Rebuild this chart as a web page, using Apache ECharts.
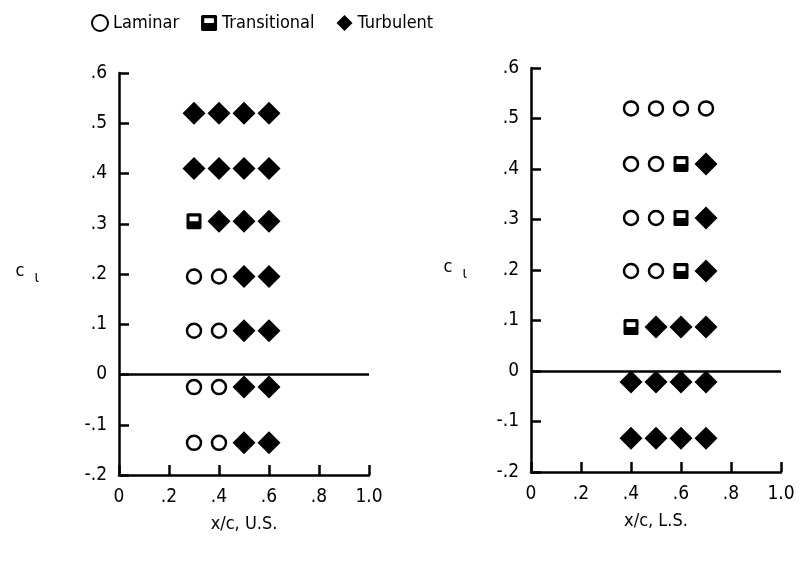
<!DOCTYPE html>
<html>
<head>
<meta charset="utf-8">
<script src="https://cdn.jsdelivr.net/npm/echarts@6/dist/echarts.min.js"></script>
<style>
    html, body {margin: 0; padding: 0; background: #fff;}
    #chart {width: 808px; height: 562px;}
</style>
</head>
<body>
<div id="chart"></div>
<script>
    // upper surface (U.S.) points [x/c, cl]
    const usLaminar = [[0.3, 0.195], [0.4, 0.195], [0.3, 0.087], [0.4, 0.087],
        [0.3, -0.025], [0.4, -0.025], [0.3, -0.136], [0.4, -0.136]];
    const usTransitional = [[0.3, 0.305]];
    const usTurbulent = [[0.3, 0.52], [0.4, 0.52], [0.5, 0.52], [0.6, 0.52],
        [0.3, 0.41], [0.4, 0.41], [0.5, 0.41], [0.6, 0.41],
        [0.4, 0.305], [0.5, 0.305], [0.6, 0.305],
        [0.5, 0.195], [0.6, 0.195], [0.5, 0.087], [0.6, 0.087],
        [0.5, -0.025], [0.6, -0.025], [0.5, -0.136], [0.6, -0.136]];

    // lower surface (L.S.) points
    const lsLaminar = [[0.4, 0.52], [0.5, 0.52], [0.6, 0.52], [0.7, 0.52],
        [0.4, 0.41], [0.5, 0.41], [0.4, 0.303], [0.5, 0.303], [0.4, 0.198], [0.5, 0.198]];
    const lsTransitional = [[0.6, 0.41], [0.6, 0.303], [0.6, 0.198], [0.4, 0.087]];
    const lsTurbulent = [[0.7, 0.41], [0.7, 0.303], [0.7, 0.198],
        [0.5, 0.087], [0.6, 0.087], [0.7, 0.087],
        [0.4, -0.022], [0.5, -0.022], [0.6, -0.022], [0.7, -0.022],
        [0.4, -0.133], [0.5, -0.133], [0.6, -0.133], [0.7, -0.133]];

    const xNames = ['x/c, U.S.', 'x/c, L.S.'];

    const font = "'DejaVu Sans Condensed', 'DejaVu Sans', sans-serif";
    const black = '#000';
    // square with a window in its upper half
    const transSymbol = 'path://M1,0 H9 Q10,0 10,1 V9 Q10,10 9,10 H1 Q0,10 0,9 V1 Q0,0 1,0 Z M2,2 V5 H8 V2 Z';

    function tickText(v) {
        const r = Math.round(v * 10) / 10;
        if (r === 0) return '0';
        if (r === 1) return '1.0';
        return String(r).replace('0.', '.');
    }

    const chart = echarts.init(document.getElementById('chart'));

    const grids = [
        {left: 119, top: 73, width: 250, height: 402},
        {left: 531, top: 68, width: 250, height: 404}
    ];

    const xAxes = xNames.map(function (name, i) {
        return {
            gridIndex: i, type: 'value', min: 0, max: 1, interval: 0.2,
            name: name, nameLocation: 'middle', nameGap: 40,
            nameTextStyle: {color: black, fontFamily: font, fontSize: 18},
            axisLine: {onZero: false, lineStyle: {color: black, width: 2.5}},
            axisTick: {inside: true, length: 10, lineStyle: {color: black, width: 2.5}},
            axisLabel: {color: black, fontFamily: font, fontSize: 19, margin: 13, formatter: tickText},
            splitLine: {show: false}
        };
    });

    const nameGaps = [80, 64];
    const yAxes = [0, 1].map(function (i) {
        return {
            gridIndex: i, type: 'value', min: -0.2, max: 0.6, interval: 0.1,
            name: '{c|c}{l|ι}', nameLocation: 'middle', nameRotate: 0, nameGap: nameGaps[i],
            nameTextStyle: {
                rich: {
                    c: {color: black, fontFamily: font, fontSize: 18, padding: [0, 0, 6, 0]},
                    l: {color: black, fontFamily: font, fontSize: 15, padding: [8, 0, 0, 10]}
                }
            },
            axisLine: {lineStyle: {color: black, width: 2.5}},
            axisTick: {inside: true, length: 10, lineStyle: {color: black, width: 2.5}},
            axisLabel: {color: black, fontFamily: font, fontSize: 19, margin: 12, formatter: tickText},
            splitLine: {show: false}
        };
    });

    function laminar(data, i) {
        return {
            name: 'Laminar', type: 'scatter', xAxisIndex: i, yAxisIndex: i, data: data,
            symbol: 'circle', symbolSize: 14,
            itemStyle: {color: '#fff', borderColor: black, borderWidth: 2.5, opacity: 1},
            markLine: {
                silent: true, symbol: 'none', label: {show: false},
                lineStyle: {color: black, width: 2.5, type: 'solid'},
                data: [{yAxis: 0}]
            }
        };
    }

    function transitional(data, i) {
        return {
            name: 'Transitional', type: 'scatter', xAxisIndex: i, yAxisIndex: i, data: data,
            symbol: transSymbol, symbolSize: [15, 16],
            itemStyle: {color: black, opacity: 1}
        };
    }

    function turbulent(data, i) {
        return {
            name: 'Turbulent', type: 'scatter', xAxisIndex: i, yAxisIndex: i, data: data,
            symbol: 'diamond', symbolSize: [23, 23],
            itemStyle: {color: black, opacity: 1}
        };
    }

    const option = {
        animation: false,
        backgroundColor: '#fff',
        legend: {
            left: 86, top: 9, itemGap: 22, itemWidth: 16, itemHeight: 16,
            textStyle: {color: black, fontFamily: font, fontSize: 18},
            data: [
                {name: 'Laminar', itemStyle: {opacity: 1}},
                {name: 'Transitional', itemStyle: {opacity: 1}},
                {name: 'Turbulent', itemStyle: {opacity: 1}}
            ]
        },
        grid: grids,
        xAxis: xAxes,
        yAxis: yAxes,
        series: [
            laminar(usLaminar, 0), transitional(usTransitional, 0), turbulent(usTurbulent, 0),
            laminar(lsLaminar, 1), transitional(lsTransitional, 1), turbulent(lsTurbulent, 1)
        ]
    };

    chart.setOption(option);
</script>
</body>
</html>
